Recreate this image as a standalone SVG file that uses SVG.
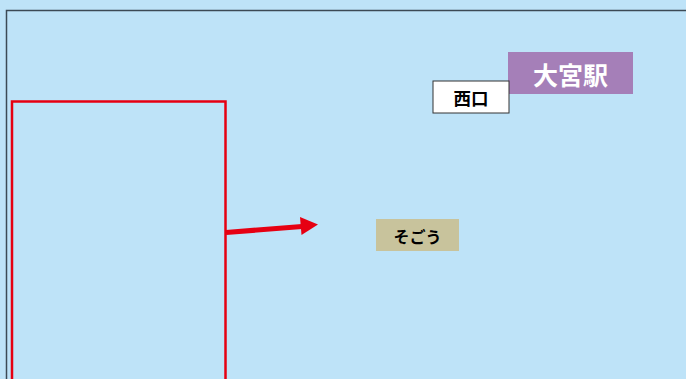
<svg xmlns="http://www.w3.org/2000/svg" width="686" height="379" viewBox="0 0 686 379">
<style>
.lbl{font-family:"Noto Sans CJK JP","Noto Sans",sans-serif;font-weight:bold;text-anchor:middle;dominant-baseline:central}
</style>
<rect width="686" height="379" fill="#BEE3F8"/>
<path d="M6.5,379 V10.5 H686" fill="none" stroke="#3C4A55" stroke-width="1.5"/>
<g id="area">
<rect x="12" y="101.5" width="213.5" height="280" fill="none" stroke="#E60012" stroke-width="2.5"/>
</g>
<g id="connectors">
<line x1="226" y1="232.5" x2="302" y2="226.5" stroke="#E60012" stroke-width="5"/>
<polygon points="318,224.5 300,217 301.5,235" fill="#E60012"/>
</g>
<g id="station">
<rect x="508" y="52" width="125" height="42" fill="#A57FB8"/>
<text class="lbl" x="570.5" y="74" font-size="25" fill="#FFFFFF">大宮駅</text>
</g>
<g id="west-exit">
<rect x="433" y="81" width="76" height="32" fill="#FFFFFF" stroke="#333333" stroke-width="1"/>
<text class="lbl" x="471" y="97.5" font-size="17.5" fill="#000000">西口</text>
</g>
<g id="sogo">
<rect x="376" y="219" width="83" height="32" fill="#C8C39C"/>
<text class="lbl" x="417.5" y="235.5" font-size="16" fill="#000000">そごう</text>
</g>
</svg>
